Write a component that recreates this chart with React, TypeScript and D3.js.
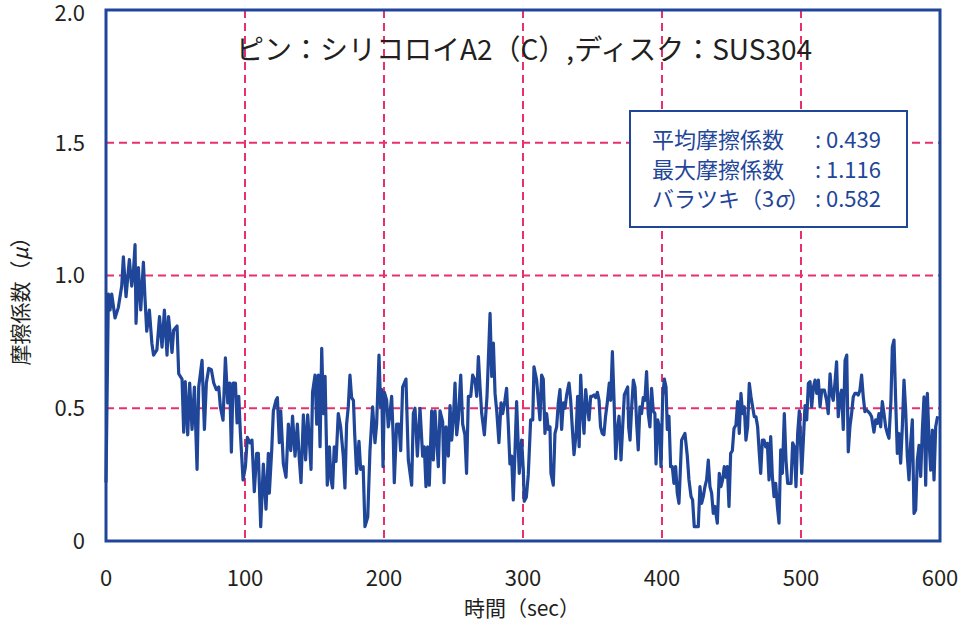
import { useEffect, useRef } from 'react'
import * as d3 from 'd3'

// [sec, μ]
const frictionTrace: [number, number][] = [
  [0, 0.22], [1.7, 0.93], [2.9, 0.87], [4.1, 0.93], [6.5, 0.84], [8.9, 0.88], [11.3, 0.96], [12.5, 1.07],
  [14.4, 0.92], [16.8, 1.06], [18.5, 0.96], [19.7, 1.01], [20.9, 1.116], [21.6, 0.82], [23.3, 1.03], [25, 0.87],
  [26.9, 1.05], [28, 0.92], [29.3, 0.79], [31.2, 0.87], [33, 0.745], [34.2, 0.7], [36.6, 0.72], [38.5, 0.845],
  [40.3, 0.73], [42, 0.87], [43.9, 0.7], [45, 0.845], [47.5, 0.71], [48.7, 0.795], [51.1, 0.81], [52.3, 0.63],
  [54.7, 0.61], [55.9, 0.41], [57, 0.6], [58.8, 0.4], [60.2, 0.595], [61.9, 0.42], [63.6, 0.58], [65.5, 0.27],
  [66.7, 0.58], [67.9, 0.63], [69.1, 0.68], [70.8, 0.42], [72.2, 0.595], [73.9, 0.65], [75.8, 0.645], [77.5, 0.595],
  [79.4, 0.57], [81.1, 0.58], [82.3, 0.505], [84.2, 0.455], [85.9, 0.69], [87.6, 0.52], [89, 0.595], [90.2, 0.335],
  [91.4, 0.595], [93.1, 0.595], [94.3, 0.445], [95.5, 0.545], [96.7, 0.405], [98.6, 0.23], [100.3, 0.28],
  [101.7, 0.39], [103.6, 0.37], [105, 0.38], [106.7, 0.186], [108.4, 0.33], [109.6, 0.33], [111.3, 0.054], [113.2, 0.29],
  [115.1, 0.12], [116.8, 0.33], [117.5, 0.18], [119.2, 0.34], [120.4, 0.49], [122.3, 0.53], [123.3, 0.54], [124.7, 0.37],
  [125.7, 0.49], [127.6, 0.29], [129.5, 0.24], [131.2, 0.44], [132.9, 0.34], [134.2, 0.47], [136, 0.32], [137.7, 0.44],
  [139.1, 0.305], [140.3, 0.22], [142, 0.475], [143.6, 0.305], [145.1, 0.475], [146.3, 0.38], [147.5, 0.27], [148.6, 0.56],
  [150.4, 0.625], [151.6, 0.44], [152.8, 0.625], [154, 0.355], [155.2, 0.726], [156.4, 0.48], [157.6, 0.62], [159.2, 0.21],
  [160.7, 0.355], [161.9, 0.23], [163, 0.2], [164.2, 0.355], [165.5, 0.3], [167.1, 0.48], [168.8, 0.43], [170.7, 0.32],
  [171.9, 0.2], [173.1, 0.44], [174.3, 0.505], [175.5, 0.625], [176.7, 0.54], [178, 0.53], [178.9, 0.405], [180.3, 0.255],
  [182, 0.375], [183.2, 0.27], [185, 0.28], [186.3, 0.054], [188.3, 0.09], [189.9, 0.34], [191.8, 0.505], [193.5, 0.37],
  [194.7, 0.44], [196.4, 0.7], [197.6, 0.505], [198.4, 0.57], [199.3, 0.28], [200.3, 0.56], [201.9, 0.53], [203.1, 0.43],
  [204.3, 0.48], [205.5, 0.545], [206.7, 0.38], [207.4, 0.22], [209.1, 0.44], [210.8, 0.44], [212, 0.34], [213.4, 0.58],
  [215.8, 0.61], [217.5, 0.305], [219.9, 0.21], [221.1, 0.48], [222.3, 0.5], [224, 0.32], [225.9, 0.5], [227.8, 0.32],
  [229, 0.355], [230.2, 0.205], [231.4, 0.355], [232.6, 0.21], [234.3, 0.49], [235.5, 0.305], [236.7, 0.49], [237.9, 0.38],
  [239.1, 0.28], [240.3, 0.49], [242.2, 0.45], [243.2, 0.22], [244.6, 0.43], [246.3, 0.32], [247.5, 0.51], [248.7, 0.38],
  [249.9, 0.46], [251.1, 0.595], [252.3, 0.4], [253.5, 0.46], [255.2, 0.625], [256.6, 0.44], [258.2, 0.4], [259.4, 0.255],
  [260.7, 0.545], [262.4, 0.545], [263.8, 0.625], [265.5, 0.605], [266.7, 0.545], [267.9, 0.695], [269.1, 0.58], [270.3, 0.48],
  [272.2, 0.4], [274.1, 0.545], [276.3, 0.857], [277.5, 0.62], [278.7, 0.745], [279.9, 0.555], [281.1, 0.49], [282.7, 0.37],
  [284.2, 0.52], [285.4, 0.48], [287, 0.53], [288.2, 0.575], [289.4, 0.44], [290.6, 0.29], [291.8, 0.32], [293, 0.155],
  [294.2, 0.33], [295.4, 0.525], [297.3, 0.255], [299, 0.38], [300.2, 0.27], [300.9, 0.15], [302.4, 0.165], [303.8, 0.25],
  [305.5, 0.456], [307, 0.456], [307.9, 0.656], [309.8, 0.606], [311, 0.53], [312.2, 0.456], [313.4, 0.625], [314.6, 0.61],
  [315.8, 0.405], [317, 0.48], [318.2, 0.42], [319.4, 0.43], [320.1, 0.255], [321.8, 0.21], [323, 0.405], [324.2, 0.43],
  [325.4, 0.52], [326.6, 0.57], [327.8, 0.42], [329, 0.52], [330.2, 0.5], [331.4, 0.55], [333.1, 0.595], [334.3, 0.53],
  [335.3, 0.44], [336.7, 0.325], [338.2, 0.405], [339.3, 0.545], [340.4, 0.355], [341.5, 0.625], [342.7, 0.49], [343.9, 0.405],
  [345.1, 0.57], [346.3, 0.505], [347.5, 0.456], [348.7, 0.545], [349.9, 0.545], [351.1, 0.55], [352.3, 0.54], [353.5, 0.56],
  [354.7, 0.53], [355.8, 0.43], [357, 0.405], [358.2, 0.4], [359.4, 0.47], [360.6, 0.52], [362.1, 0.595], [363.1, 0.53],
  [364.3, 0.713], [365.5, 0.53], [366.7, 0.31], [367.9, 0.42], [369.1, 0.47], [370.5, 0.305], [371.7, 0.43], [372.9, 0.55],
  [375.3, 0.58], [376, 0.43], [377, 0.38], [378.2, 0.505], [379.4, 0.606], [380.6, 0.58], [381.8, 0.44], [382.9, 0.343],
  [384.1, 0.505], [385.3, 0.48], [386.5, 0.54], [387.7, 0.53], [388.9, 0.638], [390.1, 0.48], [391.3, 0.43], [392.5, 0.575],
  [393.7, 0.49], [394.9, 0.48], [395.7, 0.29], [396.9, 0.456], [398.1, 0.43], [399.3, 0.28], [400.5, 0.545], [401.7, 0.61],
  [402.9, 0.58], [403.8, 0.42], [405, 0.47], [406.2, 0.28], [407.4, 0.28], [408.6, 0.217], [409.8, 0.28], [411, 0.18],
  [412.2, 0.142], [414.1, 0.38], [416.5, 0.405], [418.2, 0.32], [419.4, 0.23], [420.9, 0.167], [422, 0.155], [423.2, 0.054],
  [424.7, 0.054], [426.1, 0.054], [427.3, 0.205], [428.5, 0.142], [429.7, 0.167], [430.9, 0.205], [432.1, 0.23], [433.3, 0.305],
  [434.5, 0.205], [435.7, 0.18], [436.9, 0.104], [438.1, 0.13], [439.8, 0.067], [441.2, 0.255], [442.4, 0.205], [443.6, 0.23],
  [444.8, 0.28], [446, 0.24], [447, 0.28], [448.2, 0.13], [449.4, 0.33], [450.6, 0.34], [451.8, 0.424], [453.2, 0.437],
  [454.4, 0.525], [455.6, 0.405], [456.8, 0.556], [458, 0.48], [459.2, 0.505], [460.4, 0.38], [461.6, 0.43], [462.8, 0.594],
  [464, 0.544], [465.2, 0.505], [466.4, 0.468], [467.6, 0.468], [468.8, 0.43], [470, 0.33], [471, 0.255], [472.2, 0.38],
  [473.4, 0.38], [474.6, 0.355], [475.8, 0.368], [477, 0.23], [478.2, 0.393], [479.4, 0.243], [480.6, 0.167], [481.8, 0.217],
  [483, 0.13], [484.2, 0.067], [485.4, 0.343], [486.6, 0.255], [488, 0.48], [489.2, 0.305], [490.4, 0.217], [491.6, 0.217],
  [492.8, 0.217], [494, 0.37], [495.2, 0.355], [496.4, 0.205], [497.6, 0.405], [498.8, 0.49], [500.5, 0.255], [501.7, 0.38],
  [502.9, 0.51], [504.1, 0.456], [505.3, 0.594], [506.5, 0.6], [507.7, 0.505], [508.9, 0.58], [510.1, 0.606], [511.3, 0.556],
  [512.5, 0.606], [513.7, 0.505], [514.9, 0.568], [516.8, 0.568], [518.4, 0.53], [519.6, 0.48], [520.9, 0.63], [522, 0.556],
  [523.2, 0.53], [524.4, 0.594], [525.6, 0.675], [526.8, 0.468], [528, 0.543], [529.2, 0.568], [530.4, 0.42], [531.7, 0.68],
  [532.9, 0.7], [534, 0.336], [535.2, 0.43], [536.4, 0.48], [537.6, 0.543], [538.8, 0.556], [540, 0.556], [541.2, 0.55],
  [542.4, 0.568], [543.6, 0.625], [544.8, 0.543], [546, 0.487], [547.2, 0.493], [548.4, 0.487], [549.6, 0.48], [550.8, 0.468],
  [552.5, 0.41], [553.7, 0.456], [554.9, 0.443], [556.1, 0.48], [557.3, 0.43], [558.5, 0.525], [559.7, 0.48], [560.9, 0.43],
  [562.1, 0.405], [563.3, 0.387], [564.7, 0.53], [565.7, 0.73], [566.9, 0.757], [568.1, 0.53], [569.3, 0.33], [570.5, 0.405],
  [571.7, 0.293], [572.9, 0.43], [574.1, 0.606], [575.3, 0.493], [576.5, 0.318], [577.7, 0.23], [578.9, 0.37], [580.1, 0.456],
  [581.3, 0.104], [582.5, 0.117], [583.7, 0.305], [584.9, 0.36], [586.1, 0.243], [587.3, 0.418], [588.5, 0.543], [589.7, 0.21],
  [590.9, 0.556], [592.1, 0.38], [593.3, 0.267], [594.5, 0.418], [595.7, 0.23], [596.9, 0.43], [598.3, 0.47],
]

const xTicks = [0, 100, 200, 300, 400, 500, 600]
const yTicks = [0, 0.5, 1.0, 1.5, 2.0]
const yTickLabels = ['0', '0.5', '1.0', '1.5', '2.0']

const title = 'ピン：シリコロイA2（C）,ディスク：SUS304'
const statLabels = ['平均摩擦係数', '最大摩擦係数', 'バラツキ（3']
const statLabelTails = ['', '', 'σ']
const statLabelEnds = ['', '', '）']
const statValues = ['0.439', '1.116', '0.582']
const xTitle = '時間（sec）'
const yTitleHead = '摩擦係数（'
const yTitleSymbol = 'μ'
const yTitleEnd = '）'

const BLUE = '#1f4698'
const PINK = '#e8306c'
const INK = '#231f20'
const FONT = '"Noto Sans CJK JP", "Noto Sans", sans-serif'

export default function App() {
  const ref = useRef<SVGSVGElement>(null)

  useEffect(() => {
    if (!ref.current) return
    const svg = d3.select(ref.current)
    svg.selectAll('*').remove()

    const left = 106, right = 940, top = 10, bottom = 541
    const x = d3.scaleLinear().domain([0, 600]).range([left, right])
    const y = d3.scaleLinear().domain([0, 2]).range([bottom, top])

    // grid
    xTicks.slice(1, -1).forEach(t => {
      svg.append('line')
        .attr('x1', x(t)).attr('x2', x(t)).attr('y1', top).attr('y2', bottom)
        .attr('stroke', PINK).attr('stroke-width', 2).attr('stroke-dasharray', '8,5')
    })
    yTicks.slice(1, -1).forEach(t => {
      svg.append('line')
        .attr('x1', left).attr('x2', right).attr('y1', y(t)).attr('y2', y(t))
        .attr('stroke', PINK).attr('stroke-width', 2).attr('stroke-dasharray', '8,5')
    })

    // trace
    const line = d3.line<[number, number]>().x(d => x(d[0])).y(d => y(d[1]))
    svg.append('path')
      .datum(frictionTrace)
      .attr('d', line)
      .attr('fill', 'none')
      .attr('stroke', BLUE)
      .attr('stroke-width', 3.2)
      .attr('stroke-linejoin', 'round')

    // frame
    svg.append('rect')
      .attr('x', left).attr('y', top).attr('width', right - left).attr('height', bottom - top)
      .attr('fill', 'none').attr('stroke', BLUE).attr('stroke-width', 3)

    // tick labels
    yTicks.forEach((t, i) => {
      svg.append('text')
        .attr('x', 85).attr('y', Math.max(y(t), 13)).attr('dy', '0.36em')
        .attr('text-anchor', 'end')
        .style('font-family', FONT).style('font-size', '22px').style('fill', INK)
        .text(yTickLabels[i])
    })
    xTicks.forEach(t => {
      svg.append('text')
        .attr('x', x(t)).attr('y', 578).attr('dy', '0.36em')
        .attr('text-anchor', 'middle')
        .style('font-family', FONT).style('font-size', '22px').style('fill', INK)
        .text(String(t))
    })

    // axis titles
    svg.append('text')
      .attr('x', 522).attr('y', 608).attr('dy', '0.36em')
      .attr('text-anchor', 'middle')
      .style('font-family', FONT).style('font-size', '21px').style('fill', INK)
      .text(xTitle)
    const yt = svg.append('text')
      .attr('transform', 'translate(20,296) rotate(-90)')
      .attr('dy', '0.36em')
      .attr('text-anchor', 'middle')
      .style('font-family', FONT).style('font-size', '21px').style('fill', INK)
    yt.append('tspan').text(yTitleHead)
    yt.append('tspan').style('font-style', 'italic').text(yTitleSymbol)
    yt.append('tspan').text(yTitleEnd)

    // title
    svg.append('text')
      .attr('x', 524).attr('y', 50).attr('dy', '0.36em')
      .attr('text-anchor', 'middle')
      .style('font-family', FONT).style('font-size', '28px').style('fill', INK)
      .text(title)

    // stats box
    svg.append('rect')
      .attr('x', 630).attr('y', 111).attr('width', 277).attr('height', 116)
      .attr('fill', '#fff').attr('stroke', BLUE).attr('stroke-width', 2)
    const stats = svg.append('text')
      .style('font-family', FONT).style('font-size', '22px').style('fill', BLUE)
    statLabels.forEach((s, i) => {
      const yy = 148 + i * 29.5
      stats.append('tspan').attr('x', 652).attr('y', yy).text(s)
      if (statLabelTails[i]) stats.append('tspan').style('font-style', 'italic').text(statLabelTails[i])
      if (statLabelEnds[i]) stats.append('tspan').text(statLabelEnds[i])
      stats.append('tspan').attr('x', 815).attr('y', yy).text(':')
      stats.append('tspan').attr('x', 826).attr('y', yy).text(statValues[i])
    })
  }, [])

  return (
    <svg
      ref={ref}
      width={963}
      height={627}
      style={{ position: 'absolute', left: 0, top: 0, background: '#fff' }}
    />
  )
}
